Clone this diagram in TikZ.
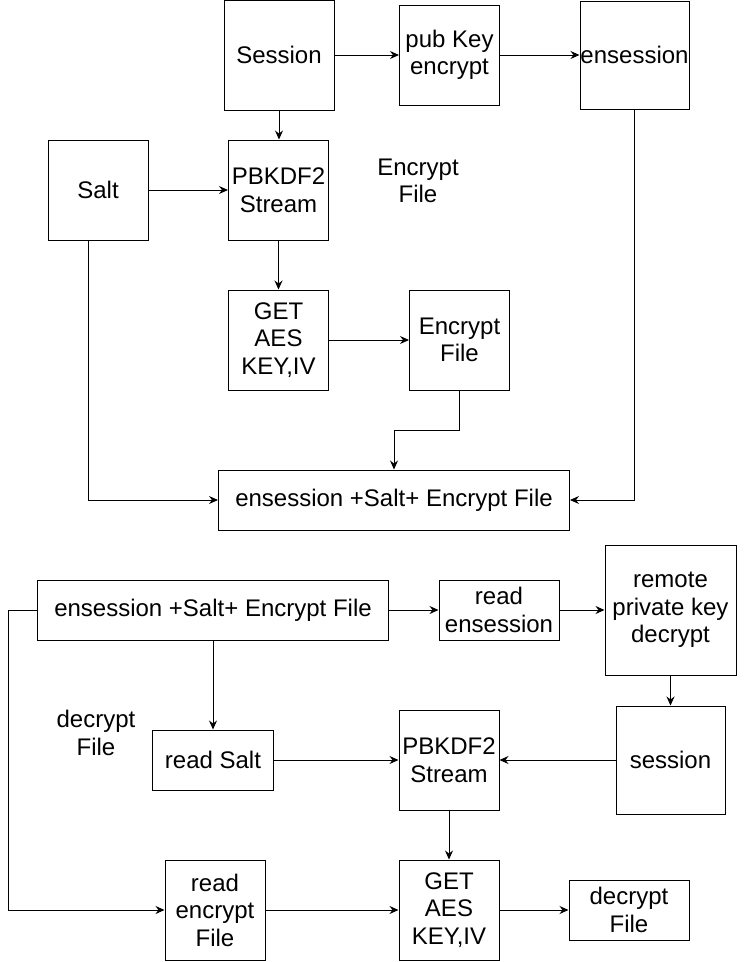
\documentclass[tikz,border=0pt]{standalone}
\usepackage{fontspec}
\setmainfont{Liberation Sans}
\usetikzlibrary{arrows.meta,calc}
\begin{document}
\begin{tikzpicture}[x=1pt,y=-1pt,
  box/.style={draw,line width=1pt,align=center,inner sep=0pt,font=\fontsize{24}{27.5}\selectfont},
  lbl/.style={align=center,inner sep=0pt,font=\fontsize{24}{27.5}\selectfont},
  arr/.style={line width=1pt,-{Stealth[length=9pt,width=8pt,inset=3pt]}}]
\useasboundingbox (0,0) rectangle (749,962);
% encrypt part
\node[box,minimum width=110,minimum height=110] (session) at (279,55) {Session};
\node[box,minimum width=100,minimum height=100] (pubkey) at (449.5,55) {pub Key\\encrypt};
\node[box,minimum width=109,minimum height=108] (ensession) at (634.5,55) {ensession};
\node[box,minimum width=100,minimum height=100] (salt) at (98,190) {Salt};
\node[box,minimum width=100,minimum height=100] (pbkdf) at (278.5,190) {PBKDF2\\Stream};
\node[lbl] (enclbl) at (418,181) {Encrypt\\File};
\node[box,minimum width=100,minimum height=100] (getaes) at (278.5,340) {GET\\AES\\KEY,IV};
\node[box,minimum width=100,minimum height=100] (encfile) at (459.5,340) {Encrypt\\File};
\node[box,minimum width=351,minimum height=60] (combo) at (394,500) {ensession +Salt+ Encrypt File};
\draw[arr] (session) -- (pubkey);
\draw[arr] (pubkey) -- (ensession);
\draw[arr] (session) -- (session |- pbkdf.north);
\draw[arr] (salt) -- (pbkdf);
\draw[arr] (pbkdf.south -| getaes) -- (getaes);
\draw[arr] (getaes) -- (encfile);
\draw[arr] (encfile.south) -- ++(0,40) -| (combo.north);
\draw[arr] ([xshift=-10pt]salt.south) |- (combo.west);
\draw[arr] (ensession.south) |- (combo.east);
% decrypt part
\node[box,minimum width=351,minimum height=60] (combo2) at (213,610) {ensession +Salt+ Encrypt File};
\node[box,minimum width=120,minimum height=60] (readens) at (499,610) {read\\ensession};
\node[box,minimum width=131,minimum height=130] (remote) at (670.5,610) {remote\\private key\\decrypt};
\node[lbl] (declbl) at (96,733) {decrypt\\File};
\node[box,minimum width=121,minimum height=60] (readsalt) at (213,760) {read Salt};
\node[box,minimum width=100,minimum height=100] (pbkdf2) at (449,760) {PBKDF2\\Stream};
\node[box,minimum width=109,minimum height=108] (sess2) at (670.5,760) {session};
\node[box,minimum width=100,minimum height=100] (readenc) at (215,910) {read\\encrypt\\File};
\node[box,minimum width=100,minimum height=100] (getaes2) at (449,910) {GET\\AES\\KEY,IV};
\node[box,minimum width=120,minimum height=60] (decfile) at (629,910) {decrypt\\File};
\coordinate (lft) at (8,610);
\draw[arr] (combo2) -- (readens);
\draw[arr] (readens) -- (remote);
\draw[arr] (remote) -- (sess2);
\draw[arr] (combo2.south) -- (readsalt.north);
\draw[arr] (readsalt) -- (pbkdf2);
\draw[arr] (sess2) -- (pbkdf2);
\draw[arr] (pbkdf2) -- (getaes2);
\draw[arr] (combo2.west) -- (lft) |- (readenc.west);
\draw[arr] (readenc) -- (getaes2);
\draw[arr] (getaes2) -- (decfile);
\end{tikzpicture}
\end{document}
